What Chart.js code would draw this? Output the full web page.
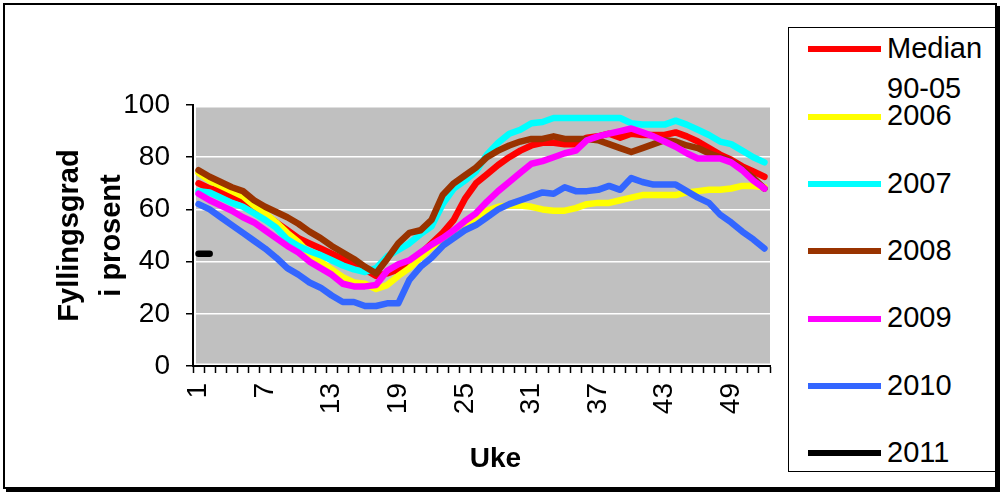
<!DOCTYPE html>
<html lang="no">
<head>
  <meta charset="UTF-8">
  <title>Fyllingsgrad i prosent</title>
  <script src="https://cdn.jsdelivr.net/npm/chart.js"></script>
  <style>
    html, body { margin: 0; padding: 0; background: #fff; }
    body { width: 1006px; height: 499px; position: relative; overflow: hidden;
           font-family: "Liberation Sans", Arial, sans-serif; }
    #frame { position: absolute; left: 3px; top: 3px; width: 994px; height: 486px;
             box-sizing: border-box; border: 2px solid #000; box-shadow: 3px 3px 0 #000; }
    #chart { position: absolute; left: 0; top: 0; }
    #legend { position: absolute; left: 788px; top: 27px; width: 208px; height: 445px;
              box-sizing: border-box; border: 1px solid #000; background: #fff; }
    #legend .swatch { position: absolute; left: 19px; width: 73px; height: 6px; }
    #legend .name { position: absolute; left: 98px; width: 100px; font-size: 29px;
                    line-height: 40px; color: #000; }
  </style>
</head>
<body>

<div id="frame"></div>
<canvas id="chart" width="1006" height="499"></canvas>
<div id="legend"></div>

<script>
// weeks (categories)
const weeks = [1, 2, 3, 4, 5, 6, 7, 8, 9, 10, 11, 12, 13, 14, 15, 16, 17, 18, 19, 20,
  21, 22, 23, 24, 25, 26, 27, 28, 29, 30, 31, 32, 33, 34, 35, 36, 37, 38, 39, 40,
  41, 42, 43, 44, 45, 46, 47, 48, 49, 50, 51, 52];
const weekLabels = [1, 7, 13, 19, 25, 31, 37, 43, 49];
const yTicks = [0, 20, 40, 60, 80, 100];

// reservoir filling, percent
const median9005 = [70, 68, 67, 65, 63.5, 61, 58, 55, 52, 49, 47, 45, 43, 41, 39, 37, 34.5, 35.5, 37, 39,
  43, 47, 51, 56, 64, 70, 73.5, 77, 80, 82.5, 84.5, 85.5, 85.5, 85, 85, 87.5, 88, 89, 87.5, 89,
  88.5, 88.5, 88.5, 89.5, 88, 86, 83.5, 81, 79, 76.5, 74.5, 72.5];
const y2006 = [74, 71, 69, 67, 65, 61.5, 58.5, 55, 51, 47.5, 43, 40, 37, 34, 32, 31.5, 29.5, 31, 34.5, 37.5,
  41.5, 45.5, 48, 50.5, 54, 56.5, 59.5, 61, 61.5, 61.5, 61, 60, 59.5, 59.5, 60.5, 62, 62.5, 62.5, 63.5, 64.5,
  65.5, 65.5, 65.5, 65.5, 66.5, 67, 67.5, 67.5, 68, 69, 69, 68.5];
const y2007 = [67, 66.5, 64.5, 62.5, 61, 58.5, 56, 53, 48.5, 46, 44, 42.5, 40.5, 38.5, 37, 36, 37.5, 42, 44.5, 47,
  50.5, 53.5, 62, 68, 71, 74.5, 81, 85.5, 89, 90.5, 93, 93.5, 95, 95, 95, 95, 95, 95, 95, 93,
  92.5, 92.5, 92.5, 94, 92.5, 90.5, 88.5, 86, 85, 82.5, 80, 78];
const y2008 = [75, 72.5, 70.5, 68.5, 67, 63.5, 61, 59, 57, 54.5, 51.5, 49, 46, 43.5, 41, 38, 35.5, 41, 47, 51,
  52, 56, 65.5, 70, 73, 76, 80, 82.5, 84.5, 86, 87, 87, 88, 87, 87, 87, 86.5, 85, 83.5, 82,
  83.5, 85, 86.5, 86, 84.5, 83.5, 81.5, 80, 78.5, 75.5, 72, 68];
const y2009 = [66, 63.5, 61.5, 59.5, 57, 55, 52, 49, 46, 43.5, 40, 37.5, 35, 31.5, 30.5, 30.5, 31, 36.5, 39, 40.5,
  43.5, 46.5, 49, 52, 55.5, 58.5, 63, 67, 70.5, 74, 77.5, 78.5, 80, 81.5, 82.5, 86.5, 88, 89, 90, 91,
  89.5, 88, 86, 84, 81.5, 79.5, 79.5, 79.5, 78, 75, 71, 68];
const y2010 = [62, 60, 57, 54, 51, 48, 45, 41.5, 37.5, 35, 32, 30, 27, 24.5, 24.5, 23, 23, 24, 24, 33,
  38, 41.5, 46, 49, 52, 54, 57, 60, 62, 63.5, 65, 66.5, 66, 68.5, 67, 67, 67.5, 69, 67.5, 72,
  70.5, 69.5, 69.5, 69.5, 67, 64.5, 62.5, 58, 55, 51.5, 48.5, 45];
const y2011 = [43, 43];

const seriesNames = ['Median 90-05', '2006', '2007', '2008', '2009', '2010', '2011'];
const seriesColors = ['#ff0000', '#ffff00', '#00ffff', '#993300', '#ff00ff', '#3366ff', '#000000'];
const seriesData = [median9005, y2006, y2007, y2008, y2009, y2010, y2011];

// grey plot area, slightly inset from the axes like the original
const plotBg = {
  id: 'plotBg',
  beforeDraw(chart) {
    const { ctx, chartArea: a } = chart;
    ctx.save();
    ctx.fillStyle = '#c0c0c0';
    ctx.fillRect(a.left + 3, a.top + 2.5, a.right - a.left - 3, a.bottom - a.top - 5);
    ctx.restore();
  }
};

Chart.defaults.font.family = '"Liberation Sans", Arial, sans-serif';
Chart.defaults.color = '#000';

new Chart(document.getElementById('chart'), {
  type: 'line',
  data: {
    labels: weeks,
    datasets: seriesNames.map((name, i) => ({
      label: name,
      data: seriesData[i],
      borderColor: seriesColors[i],
      backgroundColor: seriesColors[i],
      borderWidth: 6.5,
      pointRadius: 0,
      tension: 0,
      borderJoinStyle: 'round',
      borderCapStyle: 'round',
      order: seriesNames.length - i
    }))
  },
  options: {
    responsive: false,
    animation: false,
    devicePixelRatio: 1,
    layout: { padding: { left: 0, top: 105, right: 236, bottom: 0 } },
    plugins: { legend: { display: false }, tooltip: { enabled: false } },
    scales: {
      x: {
        offset: true,
        afterFit: s => { s.height = 133; },
        grid: { offset: true, drawOnChartArea: false, tickLength: 7, tickColor: '#000', tickWidth: 1.5 },
        border: { color: '#000', width: 2 },
        ticks: {
          autoSkip: false, maxRotation: 90, minRotation: 90, padding: 10,
          font: { size: 28 },
          callback: (v, i) => weekLabels.includes(weeks[i]) ? String(weeks[i]) : ''
        },
        // em space in front nudges the title right, as in the original
        title: { display: true, text: '\u2003Uke', font: { size: 28, weight: 'bold' }, padding: { top: 0, bottom: 23 } }
      },
      y: {
        min: yTicks[0],
        max: yTicks[yTicks.length - 1],
        afterFit: s => { s.width = 193; },
        grid: {
          color: c => (c.tick && c.tick.value === 0) ? 'rgba(0,0,0,0)' : '#ffffff',
          lineWidth: 1.5, tickLength: 7, tickColor: '#000', tickWidth: 1.5
        },
        border: { color: '#000', width: 2 },
        ticks: { stepSize: 20, padding: 16, font: { size: 28 } },
        title: {
          display: true, text: ['Fyllingsgrad', 'i prosent'],
          font: { size: 29, weight: 'bold', lineHeight: '42px' },
          padding: { top: 49, bottom: 0 }
        }
      }
    }
  },
  plugins: [plotBg]
});

// legend box
const legend = document.getElementById('legend');
seriesNames.forEach((name, i) => {
  const cy = 49.3 + i * 67.35 - 28;
  const sw = document.createElement('div');
  sw.className = 'swatch';
  sw.style.top = (cy - 3) + 'px';
  sw.style.background = seriesColors[i];
  const tx = document.createElement('div');
  tx.className = 'name';
  tx.style.top = (cy - 21.5) + 'px';
  tx.textContent = name;
  legend.appendChild(sw);
  legend.appendChild(tx);
});
</script>
</body>
</html>
